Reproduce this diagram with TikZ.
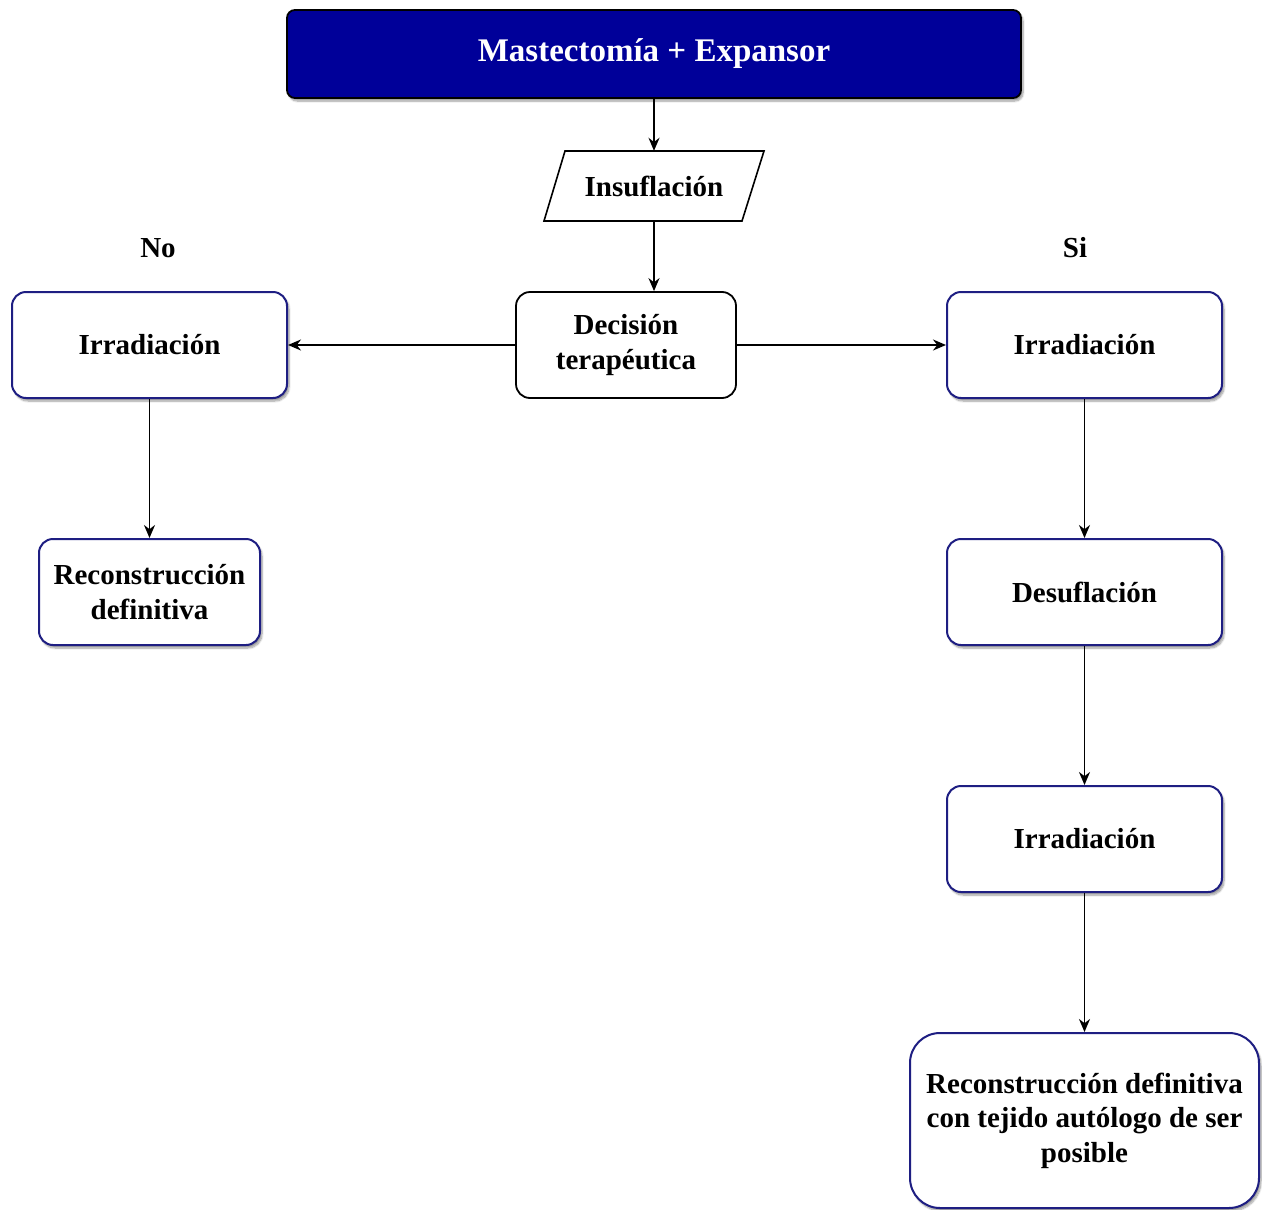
\documentclass[tikz,border=0pt]{standalone}
\usepackage{fontspec}
\setmainfont{Liberation Serif}
\usepackage{xcolor}
\usetikzlibrary{
  arrows.meta,
  shadows.blur
}
\definecolor{navyfill}{RGB}{0,0,153}
\definecolor{navyline}{RGB}{30,30,130}

\begin{document}
\begin{tikzpicture}[x=1pt, y=-1pt,
  every node/.style={font=\bfseries\fontsize{29}{34.5}\selectfont, align=center, inner sep=0pt},
  softshadow/.style={blur shadow={shadow blur steps=8, shadow xshift=2pt, shadow yshift=-3pt, shadow opacity=40}},
  titlebox/.style={draw=black, line width=1.8pt, fill=navyfill, text=white, rounded corners=8pt,
    minimum width=734pt, minimum height=88pt, softshadow, font=\bfseries\fontsize{33}{38}\selectfont},
  iobox/.style={minimum width=199pt, minimum height=70pt},
  decbox/.style={draw=black, line width=1.8pt, fill=white, rounded corners=14pt,
    minimum width=220pt, minimum height=106pt},
  procbox/.style={draw=navyline, line width=2pt, fill=white, rounded corners=14pt,
    minimum width=275pt, minimum height=106pt, softshadow},
  flow/.style={-{Stealth[length=13pt, width=11pt]}, line width=1.8pt}
]
  \useasboundingbox (0,0) rectangle (1262,1210);

  \node[titlebox] (mast) at (654,54) {Mastectomía + Expansor};
  \draw[line width=1.6pt] (565,151) -- (764,151) -- (742,221) -- (544,221) -- cycle;
  \node[iobox] (insu) at (654,186) {Insuflación};
  \node[decbox] (deci) at (626,345) {Decisión\\terapéutica};

  \node (no) at (158,248) {No};
  \node (si) at (1075,248) {Si};

  \node[procbox] (irrL) at (149.5,345) {Irradiación};
  \node[procbox, minimum width=221pt] (recL) at (149.5,592) {Reconstrucción\\definitiva};

  \foreach \n/\y/\t in {irrR/345/Irradiación, desu/592/Desuflación, irrF/839/Irradiación}{
    \node[procbox] (\n) at (1084.5,\y) {\t};
  }
  \node[procbox, minimum width=349pt, minimum height=175pt, rounded corners=30pt] (recR) at (1084.5,1120.5)
    {Reconstrucción definitiva\\con tejido autólogo de ser\\posible};

  \draw[flow] (mast) -- (insu);
  \draw[flow] (insu.south) -- (insu.south |- deci.north);
  \draw[flow] (deci) -- (irrL);
  \draw[flow] (deci) -- (irrR);
  \draw[flow] (irrL) -- (recL);
  \draw[flow] (irrR) -- (desu);
  \draw[flow] (desu) -- (irrF);
  \draw[flow] (irrF) -- (recR);
\end{tikzpicture}
\end{document}
